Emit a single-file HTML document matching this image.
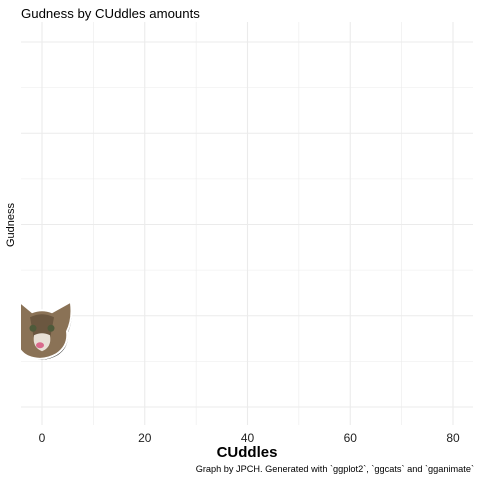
<!DOCTYPE html>
<html><head><meta charset="utf-8"><style>
body{margin:0;background:#fff;}
svg{display:block;font-family:"Liberation Sans",Arial,sans-serif;}
</style></head><body>
<svg id="chart" width="480" height="480" viewBox="0 0 480 480">
<text x="21" y="18" font-size="13.2" fill="#000">Gudness by CUddles amounts</text>
<g id="grid"></g>
<g id="xticks"></g>
<defs><clipPath id="clip"><rect x="21" y="22" width="452" height="403"/></clipPath></defs>
<g id="points" clip-path="url(#clip)"></g>
<text x="247" y="457" font-size="15" font-weight="bold" text-anchor="middle">CUddles</text>
<text transform="translate(14,225) rotate(-90)" font-size="11" text-anchor="middle">Gudness</text>
<text x="474" y="472" font-size="9.2" text-anchor="end">Graph by JPCH. Generated with `ggplot2`, `ggcats` and `gganimate`</text>
</svg>
<script>
const xTicks=[0,20,40,60,80];
const xGrid=[0,10,20,30,40,50,60,70,80];
const yGrid=[0,1,2,3,4,5,6,7,8];
const cuddles=[0];
const gudness=[1.66];
const NS="http://www.w3.org/2000/svg";
const sx=v=>42+v*(453-42)/80;
const sy=v=>407-v*(407-42)/8;
function mk(t,a,p){const e=document.createElementNS(NS,t);for(const k in a)e.setAttribute(k,a[k]);p.appendChild(e);return e;}
const grid=document.getElementById('grid');
yGrid.forEach(v=>{const l=mk('line',{x1:21,x2:473,y1:sy(v),y2:sy(v),stroke:'#ebebeb','stroke-width':v%2?0.6:1.1},grid);

});
xGrid.forEach(v=>{const l=mk('line',{x1:sx(v),x2:sx(v),y1:22,y2:425,stroke:'#ebebeb','stroke-width':v%20?0.6:1.1},grid);

});
const xt=document.getElementById('xticks');
xTicks.forEach(v=>{const t=mk('text',{x:sx(v),y:442,'font-size':12,'text-anchor':'middle',fill:'#222'},xt);t.textContent=v;

});
const pts=document.getElementById('points');
cuddles.forEach((c,i)=>{const cx=sx(c),cy=sy(gudness[i]);
const g=mk('g',{transform:`translate(${cx},${cy})`},pts);


const head="M-22,-28 L-10,-18 Q0,-22 10,-18 L28,-28 Q30,-12 24,0 Q26,14 14,22 Q0,30 -14,24 Q-26,18 -26,0 Q-28,-16 -22,-28 Z";
mk('path',{d:head,fill:'#222',transform:'translate(1.5,2)'},g);
mk('path',{d:head,fill:'#fff',stroke:'#fff','stroke-width':4},g);
mk('path',{d:head,fill:'#8a7256'},g);
mk('path',{d:"M-12,-14 Q0,-20 12,-14 L8,8 L-8,8 Z",fill:'#6b5740'},g);
mk('path',{d:"M-8,4 Q0,0 8,4 Q10,16 0,20 Q-10,16 -8,4 Z",fill:'#e8e0d6'},g);
mk('circle',{cx:-9,cy:-3,r:3.5,fill:'#4e5a3a'},g);
mk('circle',{cx:9,cy:-3,r:3.5,fill:'#4e5a3a'},g);
mk('ellipse',{cx:-2,cy:14,rx:4,ry:3,fill:'#d96a8c'},g);
});
</script>
</body></html>
